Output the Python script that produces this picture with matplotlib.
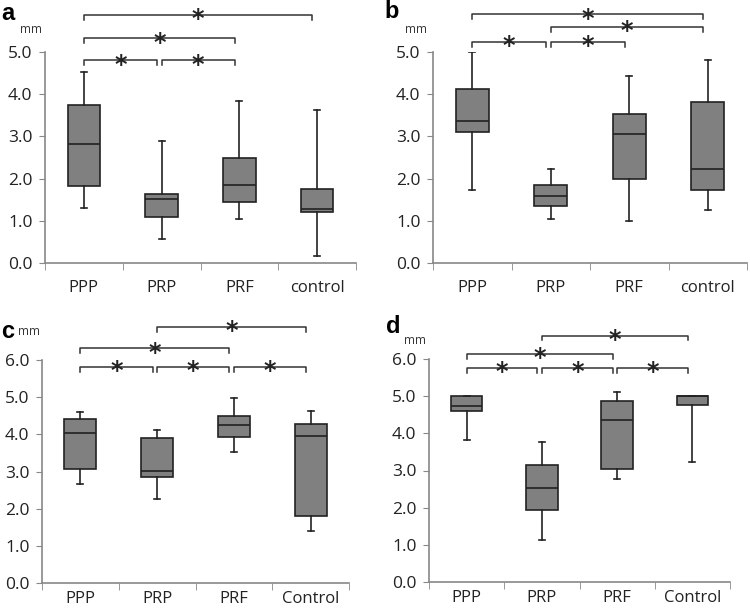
import matplotlib
matplotlib.use("Agg")
import matplotlib.pyplot as plt

plt.rcParams['font.family'] = ['Open Sans', 'DejaVu Sans']

# 数据（从图中读取的箱线图五数概括）
groups_ab = ["PPP", "PRP", "PRF", "control"]
groups_cd = ["PPP", "PRP", "PRF", "Control"]

# 每组: [下须, Q1, 中位数, Q3, 上须]
stats_a = [
    [1.30, 1.82, 2.81, 3.75, 4.52],
    [0.58, 1.09, 1.52, 1.64, 2.90],
    [1.04, 1.45, 1.84, 2.50, 3.85],
    [0.17, 1.21, 1.28, 1.75, 3.63],
]
stats_b = [
    [1.72, 3.10, 3.37, 4.12, 5.00],
    [1.05, 1.35, 1.59, 1.85, 2.23],
    [1.00, 1.99, 3.05, 3.52, 4.43],
    [1.26, 1.72, 2.22, 3.82, 4.81],
]
stats_c = [
    [2.67, 3.06, 4.03, 4.42, 4.61],
    [2.27, 2.85, 3.02, 3.89, 4.11],
    [3.52, 3.92, 4.24, 4.50, 4.99],
    [1.41, 1.79, 3.96, 4.29, 4.64],
]
stats_d = [
    [3.83, 4.59, 4.73, 5.01, 5.01],
    [1.14, 1.94, 2.52, 3.16, 3.77],
    [2.76, 3.05, 4.36, 4.88, 5.12],
    [3.22, 4.77, 5.00, 5.01, 5.01],
]

# 显著性比较 (组i, 组j, 括号高度)
sig_a = [(0, 1, 4.80), (1, 2, 4.80), (0, 2, 5.32), (0, 3, 5.87)]
sig_b = [(0, 1, 5.24), (1, 2, 5.24), (1, 3, 5.59), (0, 3, 5.89)]
sig_c = [(0, 1, 5.82), (1, 2, 5.82), (2, 3, 5.82), (0, 2, 6.31), (1, 3, 6.88)]
sig_d = [(0, 1, 5.76), (1, 2, 5.76), (2, 3, 5.76), (0, 2, 6.14), (1, 3, 6.63)]

W, H = 750, 614
fig = plt.figure(figsize=(7.5, 6.14), dpi=100)


def px_axes(x0, x1, y_top, y_bot):
    return fig.add_axes([x0 / W, 1 - y_bot / H, (x1 - x0) / W, (y_bot - y_top) / H])


def draw_panel(ax, stats, labels, sig, ymax, letter, letter_xy, mm_xy, xpad):
    bxp_stats = []
    for s in stats:
        bxp_stats.append({"whislo": s[0], "q1": s[1], "med": s[2],
                          "q3": s[3], "whishi": s[4], "fliers": []})
    ax.bxp(bxp_stats, positions=range(len(stats)), widths=0.42,
           patch_artist=True, showfliers=False, capwidths=0.08,
           boxprops=dict(facecolor="#808080", edgecolor="#222222", linewidth=1.2),
           medianprops=dict(color="#222222", linewidth=1.2),
           whiskerprops=dict(color="#222222", linewidth=1.2),
           capprops=dict(color="#222222", linewidth=1.2))

    ax.set_xlim(-0.5, len(stats) - 0.5)
    ax.set_ylim(0, ymax)
    ax.set_yticks([v for v in range(0, int(ymax) + 1)])
    ax.set_yticklabels([f"{v:.1f}" for v in range(0, int(ymax) + 1)])
    ax.set_xticks(range(len(stats)))
    ax.set_xticklabels(labels)
    ax.set_xticks([i - 0.5 for i in range(len(stats) + 1)], minor=True)
    ax.tick_params(axis="x", which="major", length=0, labelsize=12, pad=xpad,
                   colors="#222222")
    ax.tick_params(axis="x", which="minor", length=5, color="#888888", direction="out")
    ax.tick_params(axis="y", length=4, color="#888888", labelsize=12.5,
                   labelcolor="#222222", pad=5)
    for side in ("top", "right"):
        ax.spines[side].set_visible(False)
    for side in ("left", "bottom"):
        ax.spines[side].set_color("#888888")
        ax.spines[side].set_linewidth(1.2)

    drop = 0.022 * ymax
    for i, j, lev in sig:
        xs = [i + 0.0, i + 0.0, j - 0.06, j - 0.06]
        ys = [lev - drop, lev, lev, lev - drop]
        ax.plot(xs, ys, color="#333333", linewidth=1.1, clip_on=False)
        ax.annotate("*", xy=((i + j - 0.06) / 2, lev), xytext=(0, -3),
                    textcoords="offset points", ha="center", va="center",
                    fontsize=17, fontweight="bold", color="#222222",
                    family="DejaVu Sans", annotation_clip=False)

    fig.text(letter_xy[0] / W, 1 - letter_xy[1] / H, letter, fontsize=17,
             fontweight="bold", family="Liberation Sans", va="baseline", ha="left")
    fig.text(mm_xy[0] / W, 1 - mm_xy[1] / H, "mm", fontsize=8.5,
             color="#333333", va="baseline", ha="left")


ax_a = px_axes(45, 356, 52, 263)
draw_panel(ax_a, stats_a, groups_ab, sig_a, 5, "a", (1, 20), (20, 33), 12)

ax_b = px_axes(433, 747, 52, 263)
draw_panel(ax_b, stats_b, groups_ab, sig_b, 5, "b", (384, 18), (405, 33), 12)

ax_c = px_axes(42, 349, 360, 583)
draw_panel(ax_c, stats_c, groups_cd, sig_c, 6, "c", (1, 338), (18, 335), 6)

ax_d = px_axes(429, 730, 359, 582)
draw_panel(ax_d, stats_d, groups_cd, sig_d, 6, "d", (386, 333), (404, 344), 6)

fig.savefig("out.png", dpi=100)
